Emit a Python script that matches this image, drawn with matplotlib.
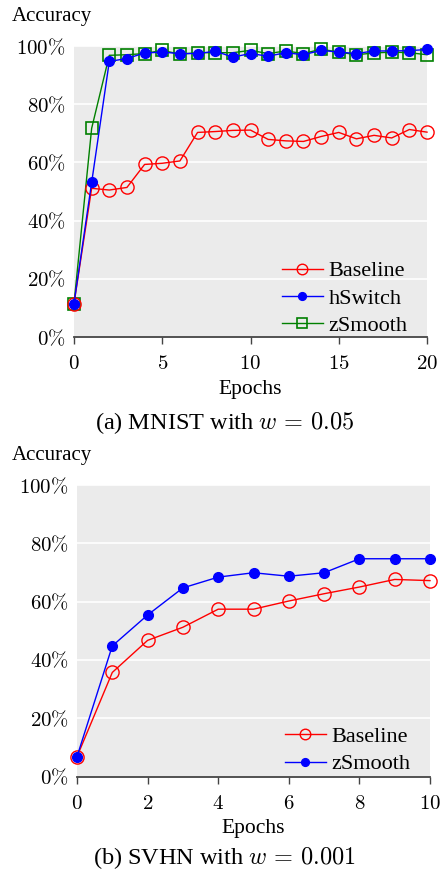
import matplotlib
matplotlib.use("Agg")
import matplotlib.pyplot as plt

plt.rcParams['font.family'] = ['Liberation Serif', 'DejaVu Serif']
plt.rcParams['mathtext.fontset'] = 'cm'

# (a) MNIST, w = 0.05
mnist_epochs = list(range(21))
mnist_baseline = [11.5, 51.1, 50.5, 51.4, 59.3, 59.7, 60.5, 70.3, 70.6, 71.0, 71.1,
                  67.9, 67.4, 67.2, 68.9, 70.3, 68.1, 69.3, 68.4, 71.3, 70.4]
mnist_hswitch = [11.5, 53.1, 94.7, 95.7, 97.6, 97.9, 97.4, 97.4, 98.2, 96.2, 97.4,
                 96.5, 97.7, 97.0, 98.5, 97.9, 97.4, 98.3, 98.3, 98.4, 98.8]
mnist_zsmooth = [11.5, 71.7, 96.8, 97.0, 97.4, 98.5, 97.2, 97.7, 97.7, 97.7, 98.5,
                 97.4, 98.3, 97.4, 98.9, 97.9, 97.0, 97.6, 97.9, 97.7, 97.0]

# (b) SVHN, w = 0.001
svhn_epochs = list(range(11))
svhn_baseline = [6.8, 35.7, 46.7, 51.2, 57.4, 57.4, 60.2, 62.7, 65.0, 67.6, 67.2]
svhn_zsmooth = [6.8, 44.8, 55.4, 64.7, 68.4, 69.9, 68.7, 69.9, 74.7, 74.7, 74.7]

yticks = [0, 20, 40, 60, 80, 100]
ytick_labels = [r"$%d\%%$" % v for v in yticks]

fs = 15
W, H = 440, 882
fig = plt.figure(figsize=(W / 100, H / 100), dpi=100)


def style(ax, xticks):
    ax.set_facecolor("#ebebeb")
    for s in ["top", "right", "left"]:
        ax.spines[s].set_visible(False)
    ax.spines["bottom"].set_color("#444444")
    ax.spines["bottom"].set_linewidth(1.3)
    ax.set_ylim(0, 100)
    ax.set_yticks(yticks)
    ax.set_yticklabels(ytick_labels, fontsize=fs)
    ax.tick_params(axis="y", length=0, pad=6)
    ax.set_xticks(xticks)
    ax.set_xticklabels([r"$%d$" % v for v in xticks], fontsize=fs)
    ax.tick_params(axis="x", direction="out", length=5, width=1, color="#444444", pad=8)
    ax.grid(axis="y", color="white", linewidth=1.2)
    ax.set_axisbelow(True)
    ax.set_xlabel("Epochs", fontsize=fs + 0.5, labelpad=4)


leg_kw = dict(loc="lower right", frameon=False, fontsize=fs + 1, handlelength=1.85,
              handletextpad=0.25, labelspacing=0.3, borderaxespad=0.0, borderpad=0.25,
              markerscale=0.8)

# top panel
ax1 = fig.add_axes([74 / W, 1 - 337 / H, (427 - 74) / W, (337 - 46) / H])
ax1.plot(mnist_epochs, mnist_zsmooth, "-s", color="#008000", mfc="none", mec="#008000",
         ms=9, lw=1, mew=1.2, label="zSmooth", zorder=3, clip_on=False)
ax1.plot(mnist_epochs, mnist_baseline, "-o", color="red", mfc="none", mec="red",
         ms=9.5, lw=1, mew=1, label="Baseline", zorder=4, clip_on=False)
ax1.plot(mnist_epochs, mnist_hswitch, "-o", color="blue", mfc="blue", mec="blue",
         ms=7, lw=1, label="hSwitch", zorder=5, clip_on=False)
ax1.set_xlim(0, 20)
style(ax1, [0, 5, 10, 15, 20])
h, l = ax1.get_legend_handles_labels()
order = [1, 2, 0]
ax1.legend([h[i] for i in order], [l[i] for i in order],
           bbox_to_anchor=(0.96, -0.015), **leg_kw)
fig.text(12 / W, 1 - 17 / H, "Accuracy", fontsize=fs, va="center", ha="left")
fig.text(0.51, 1 - 423 / H, r"(a) MNIST with $w\,=\,0.05$", fontsize=17.5,
         ha="center", va="center")

# bottom panel
ax2 = fig.add_axes([77 / W, 1 - 776.5 / H, (430 - 77) / W, (776.5 - 485) / H])
ax2.plot(svhn_epochs, svhn_baseline, "-o", color="red", mfc="none", mec="red",
         ms=9.5, lw=1, mew=1, label="Baseline", zorder=4, clip_on=False)
ax2.plot(svhn_epochs, svhn_zsmooth, "-o", color="blue", mfc="blue", mec="blue",
         ms=7, lw=1, label="zSmooth", zorder=5, clip_on=False)
ax2.set_xlim(0, 10)
style(ax2, [0, 2, 4, 6, 8, 10])
ax2.legend(bbox_to_anchor=(0.96, -0.012), **leg_kw)
fig.text(12 / W, 1 - 455 / H, "Accuracy", fontsize=fs, va="center", ha="left")
fig.text(0.51, 1 - 858 / H, r"(b) SVHN with $w\,=\,0.001$", fontsize=17.5,
         ha="center", va="center")

fig.savefig("out.png", dpi=100)
